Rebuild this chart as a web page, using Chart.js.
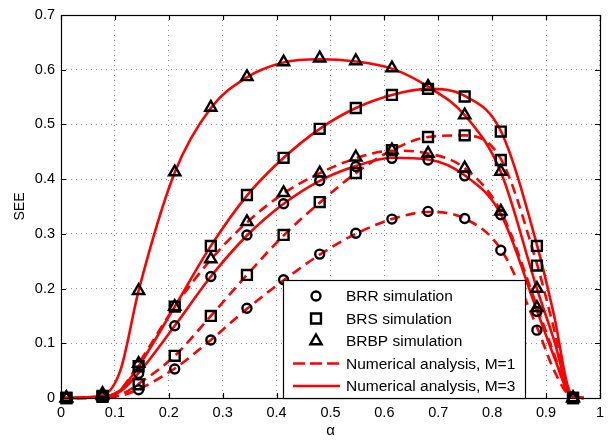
<!DOCTYPE html>
<html>
<head>
<meta charset="utf-8">
<script src="https://cdn.jsdelivr.net/npm/chart.js@4.4.0/dist/chart.umd.min.js"></script>
<style>
html, body { margin: 0; padding: 0; background: #fff; }
#wrap { width: 610px; height: 440px; }
</style>
</head>
<body>
<div id="wrap"><canvas id="chart" width="610" height="440"></canvas></div>
<script>
// alpha values of the simulation points
const alphaSim = [0.01, 0.077, 0.144, 0.211, 0.278, 0.345, 0.413, 0.48, 0.547, 0.614, 0.681, 0.749, 0.816, 0.883, 0.95];

// simulation results (markers)
const brrSimM1  = [0, 0.002, 0.015, 0.053, 0.106, 0.164, 0.216, 0.263, 0.301, 0.327, 0.341, 0.328, 0.270, 0.124, 0];
const brrSimM3  = [0, 0.003, 0.045, 0.132, 0.222, 0.298, 0.355, 0.397, 0.423, 0.438, 0.435, 0.406, 0.335, 0.158, 0];
const brsSimM1  = [0, 0.002, 0.025, 0.077, 0.150, 0.225, 0.298, 0.358, 0.411, 0.453, 0.477, 0.480, 0.435, 0.242, 0];
const brsSimM3  = [0, 0.004, 0.058, 0.167, 0.278, 0.371, 0.439, 0.492, 0.530, 0.554, 0.565, 0.551, 0.487, 0.278, 0];
const brbpSimM1 = [0, 0.004, 0.063, 0.167, 0.254, 0.322, 0.375, 0.411, 0.440, 0.453, 0.447, 0.420, 0.341, 0.165, 0];
const brbpSimM3 = [0, 0.008, 0.196, 0.413, 0.531, 0.587, 0.614, 0.621, 0.616, 0.603, 0.569, 0.517, 0.414, 0.200, 0];

// numerical analysis (curves)
const alphaCurve  = [0, 0.01, 0.077, 0.11, 0.144, 0.211, 0.278, 0.345, 0.413, 0.48, 0.547, 0.614, 0.681, 0.749, 0.816, 0.883, 0.915, 0.945, 0.97];
const brrCurveM1  = [0, 0, 0.001, 0.004, 0.016, 0.054, 0.106, 0.163, 0.215, 0.262, 0.300, 0.327, 0.340, 0.328, 0.272, 0.130, 0.050, 0.004, 0];
const brrCurveM3  = [0, 0, 0.002, 0.012, 0.046, 0.132, 0.222, 0.297, 0.355, 0.397, 0.424, 0.439, 0.436, 0.407, 0.336, 0.160, 0.075, 0.006, 0];
const brsCurveM1  = [0, 0, 0.001, 0.006, 0.026, 0.077, 0.150, 0.225, 0.297, 0.357, 0.411, 0.453, 0.477, 0.480, 0.437, 0.245, 0.125, 0.008, 0];
const brsCurveM3  = [0, 0, 0.002, 0.014, 0.058, 0.167, 0.278, 0.370, 0.439, 0.492, 0.530, 0.554, 0.565, 0.552, 0.488, 0.280, 0.150, 0.010, 0];
const brbpCurveM1 = [0, 0, 0.002, 0.015, 0.063, 0.167, 0.253, 0.321, 0.374, 0.411, 0.438, 0.452, 0.447, 0.420, 0.341, 0.168, 0.080, 0.006, 0];
const brbpCurveM3 = [0, 0, 0.005, 0.050, 0.196, 0.412, 0.530, 0.586, 0.613, 0.619, 0.615, 0.602, 0.569, 0.517, 0.413, 0.200, 0.105, 0.008, 0];

// tick labels
const xTickLabels = ['0', '0.1', '0.2', '0.3', '0.4', '0.5', '0.6', '0.7', '0.8', '0.9', '1'];
const yTickLabels = ['0', '0.1', '0.2', '0.3', '0.4', '0.5', '0.6', '0.7'];

// legend
const legendLabels = ['BRR simulation', 'BRS simulation', 'BRBP simulation', 'Numerical analysis, M=1', 'Numerical analysis, M=3'];
const legendKinds = ['circle', 'rect', 'triangle', 'dash', 'solid'];

const FONT = '"Liberation Sans", Arial, Helvetica, sans-serif';

function toPoints(xs, ys) {
    return xs.map((x, i) => ({x: x, y: ys[i]}));
}

function markerSet(ys, style, radius) {
    return {
        data: toPoints(alphaSim, ys),
        showLine: false,
        pointStyle: style,
        pointRadius: radius,
        pointHoverRadius: radius,
        pointBorderColor: '#000',
        pointBackgroundColor: 'rgba(0,0,0,0)',
        pointBorderWidth: 2.4,
        clip: false,
        order: 0
    };
}

function curveSet(ys, dashed) {
    return {
        data: toPoints(alphaCurve, ys),
        showLine: true,
        borderColor: '#ff0000',
        borderWidth: 2.6,
        borderDash: dashed ? [10, 6] : [],
        pointRadius: 0,
        cubicInterpolationMode: 'monotone',
        clip: 3,
        order: 1
    };
}

// marker shape, same geometry as Chart.js points
function drawMarker(ctx, kind, x, y) {
    ctx.beginPath();
    if (kind === 'circle') {
        ctx.arc(x, y, 4.5, 0, Math.PI * 2);
    } else if (kind === 'rect') {
        const s = 7 * Math.SQRT1_2;
        ctx.rect(x - s, y - s, 2 * s, 2 * s);
    } else {
        const r = 6.5;
        for (let k = 0; k < 3; k++) {
            const a = k * 2 * Math.PI / 3;
            const px = x + Math.sin(a) * r, py = y - Math.cos(a) * r;
            if (k === 0) ctx.moveTo(px, py); else ctx.lineTo(px, py);
        }
        ctx.closePath();
    }
    ctx.stroke();
}

const framePlugin = {
    id: 'frame',
    afterDatasetsDraw(chart) {
        const ctx = chart.ctx;
        const a = chart.chartArea;
        const xs = chart.scales.x, ys = chart.scales.y;
        ctx.save();
        ctx.strokeStyle = '#000';
        ctx.lineWidth = 1.2;
        ctx.setLineDash([]);
        // inward ticks
        ctx.beginPath();
        xs.ticks.forEach(t => {
            const px = Math.round(xs.getPixelForValue(t.value)) + 0.5;
            ctx.moveTo(px, a.bottom); ctx.lineTo(px, a.bottom - 5);
            ctx.moveTo(px, a.top); ctx.lineTo(px, a.top + 5);
        });
        ys.ticks.forEach(t => {
            const py = Math.round(ys.getPixelForValue(t.value)) + 0.5;
            ctx.moveTo(a.left, py); ctx.lineTo(a.left + 5, py);
            ctx.moveTo(a.right, py); ctx.lineTo(a.right - 5, py);
        });
        ctx.stroke();
        ctx.strokeRect(Math.round(a.left) + 0.5, Math.round(a.top) + 0.5, Math.round(a.right - a.left), Math.round(a.bottom - a.top));

        // legend box
        const bx = 283, by = 280, bw = 242, bh = 118;
        ctx.fillStyle = '#fff';
        ctx.fillRect(bx, by, bw, bh);
        ctx.strokeRect(bx + 0.5, by + 0.5, bw, bh);
        ctx.font = '15.5px ' + FONT;
        ctx.textBaseline = 'middle';
        ctx.textAlign = 'left';
        legendLabels.forEach((label, i) => {
            const cy = 296 + i * 22.5;
            const kind = legendKinds[i];
            if (kind === 'dash' || kind === 'solid') {
                ctx.save();
                ctx.strokeStyle = '#ff0000';
                ctx.lineWidth = 2.6;
                ctx.setLineDash(kind === 'dash' ? [12, 5] : []);
                ctx.beginPath();
                ctx.moveTo(293, cy); ctx.lineTo(340, cy);
                ctx.stroke();
                ctx.restore();
            } else {
                ctx.save();
                ctx.lineWidth = 2.4;
                drawMarker(ctx, kind, 316, cy);
                ctx.restore();
            }
            ctx.fillStyle = '#000';
            ctx.fillText(label, 346, cy + 1);
        });
        ctx.restore();
    }
};

const ctx = document.getElementById('chart').getContext('2d');
new Chart(ctx, {
    type: 'scatter',
    data: {
        datasets: [
            markerSet(brrSimM1, 'circle', 4.5),
            markerSet(brrSimM3, 'circle', 4.5),
            markerSet(brsSimM1, 'rect', 7),
            markerSet(brsSimM3, 'rect', 7),
            markerSet(brbpSimM1, 'triangle', 6.5),
            markerSet(brbpSimM3, 'triangle', 6.5),
            curveSet(brrCurveM1, true),
            curveSet(brrCurveM3, false),
            curveSet(brsCurveM1, true),
            curveSet(brsCurveM3, false),
            curveSet(brbpCurveM1, true),
            curveSet(brbpCurveM3, false)
        ]
    },
    options: {
        responsive: false,
        animation: false,
        devicePixelRatio: 1,
        layout: {padding: {left: 0, right: 4, top: 15, bottom: 0}},
        plugins: {legend: {display: false}, tooltip: {enabled: false}},
        scales: {
            x: {
                type: 'linear',
                min: 0, max: 1,
                afterFit: s => { s.height = 42; },
                ticks: {
                    stepSize: 0.1,
                    padding: 6,
                    color: '#000',
                    font: {family: FONT, size: 14.5},
                    maxRotation: 0,
                    autoSkip: false,
                    callback: (v, i) => xTickLabels[i]
                },
                grid: {color: 'rgba(0,0,0,0.45)', drawTicks: false, lineWidth: 1},
                border: {display: false, dash: [1, 4]},
                title: {display: true, text: 'α', color: '#000', font: {family: FONT, size: 15}, padding: {top: 0, bottom: 0}}
            },
            y: {
                type: 'linear',
                min: 0, max: 0.7,
                afterFit: s => { s.width = 61; },
                ticks: {
                    stepSize: 0.1,
                    padding: 6,
                    color: '#000',
                    font: {family: FONT, size: 14.5},
                    autoSkip: false,
                    callback: (v, i) => yTickLabels[i]
                },
                grid: {color: 'rgba(0,0,0,0.45)', drawTicks: false, lineWidth: 1},
                border: {display: false, dash: [1, 4]},
                title: {display: true, text: 'SEE', color: '#000', font: {family: FONT, size: 14}, padding: {top: 12, bottom: 0}}
            }
        }
    },
    plugins: [framePlugin]
});
</script>
</body>
</html>
